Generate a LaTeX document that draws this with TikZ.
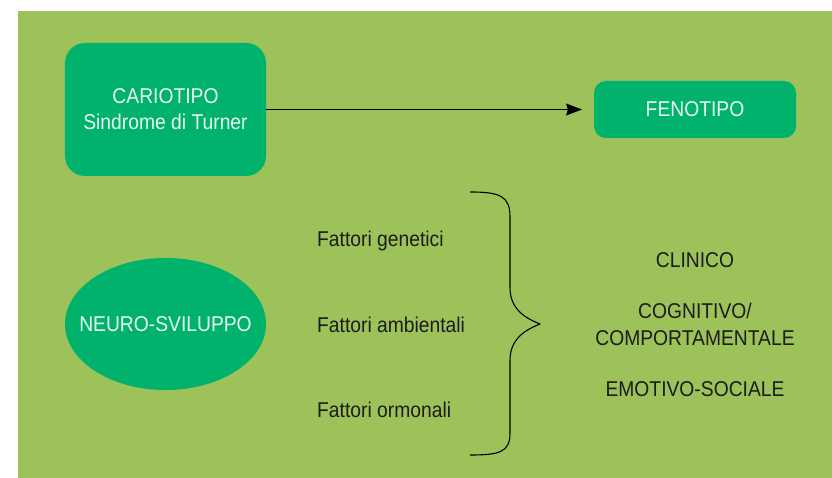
\documentclass[tikz,border=0pt]{standalone}
\usepackage{fontspec}
\setmainfont{Liberation Sans}[FakeStretch=0.9]
\usetikzlibrary{positioning,arrows.meta,shapes.geometric}
\definecolor{sfondo}{HTML}{9DC25A}
\definecolor{verdebox}{HTML}{00B26B}
\definecolor{testochiaro}{HTML}{E8F8EE}
\definecolor{testoscuro}{HTML}{1C1C1C}
\tikzset{
  carattere/.style = {font=\fontsize{21.5}{26}\selectfont},
  forma/.style     = {carattere, fill=verdebox, text=testochiaro, align=center,
                      inner sep=0pt, outer sep=0pt},
  blocco/.style    = {forma, rounded corners=20bp},
  bloccobasso/.style = {forma, rounded corners=12bp},
  ovale/.style     = {forma, ellipse},
  voce/.style      = {carattere, text=testoscuro, inner sep=0pt, anchor=base},
  freccia/.style   = {-{Stealth[length=16bp, width=12bp, inset=2bp]}, line width=1.1bp},
  parentesi/.style = {line width=1.1bp, line join=round}
}

\begin{document}
\begin{tikzpicture}[x=1bp, y=-1bp, node distance=85bp]
        \useasboundingbox (0,0) rectangle (832,478);
        \fill[sfondo] (18,11) rectangle (832,478);

        \node[blocco, minimum width=201bp, minimum height=133bp] (cario) at (165.5,109.5)
            {CARIOTIPO\\Sindrome di Turner};
        \node[bloccobasso, minimum width=202bp, minimum height=57bp] (feno) at (695,109.5) {FENOTIPO};
        \node[ovale, minimum width=201bp, minimum height=132bp] (neuro) at (165.5,324)
            {\makebox[0pt]{NEURO-SVILUPPO}};

        \draw[freccia, shorten >=12bp] (cario.east) -- (feno.west);

        % fattori a sinistra della parentesi
        \node[voce, anchor=base west] (gen) at (317,247) {Fattori genetici};
        \node[voce, below=of gen.base west, anchor=base west] (amb) {Fattori ambientali};
        \node[voce, below=of amb.base west, anchor=base west] (orm) {Fattori ormonali};

        \draw[parentesi] (470,192) .. controls (500,192) and (510,196) .. (510,217)
            -- (510,287) .. controls (510,306) and (520,316) .. (540,324)
            .. controls (520,332) and (510,342) .. (510,361)
            -- (510,433) .. controls (510,452) and (500,455) .. (470,455);

        % esiti
        \node[voce] (clin) at (695,268) {CLINICO};
        \node[voce] (cogn) at (695,319) {COGNITIVO/};
        \node[voce] (comp) at (695,345) {COMPORTAMENTALE};
        \node[voce] (emot) at (695,396.5) {EMOTIVO-SOCIALE};
    \end{tikzpicture}
\end{document}
